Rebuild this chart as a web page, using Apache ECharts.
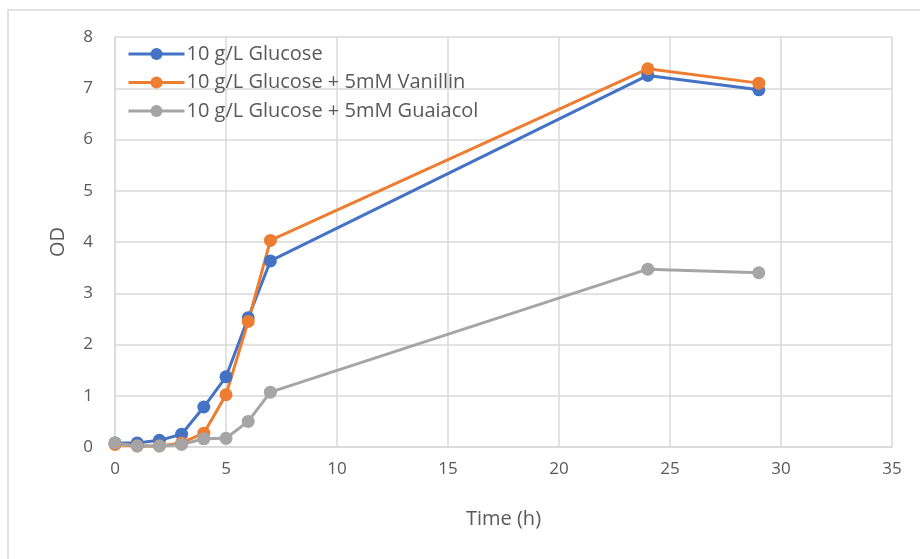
<!DOCTYPE html>
<html>
<head>
<meta charset="utf-8">
<script src="https://cdn.jsdelivr.net/npm/echarts@6/dist/echarts.min.js"></script>
<style>
  html, body { margin: 0; padding: 0; background: #fff; }
  #chart { width: 920px; height: 559px; }
</style>
</head>
<body>
<div id="chart"></div>
<script>
// sampling times (h)
const times = [0, 1, 2, 3, 4, 5, 6, 7, 24, 29]
// OD readings
const glucose = [0.08, 0.08, 0.13, 0.25, 0.78, 1.37, 2.52, 3.63, 7.25, 6.97]
const vanillin = [0.05, 0.02, 0.02, 0.08, 0.27, 1.02, 2.45, 4.03, 7.38, 7.10]
const guaiacol = [0.08, 0.02, 0.02, 0.05, 0.16, 0.17, 0.50, 1.07, 3.47, 3.40]
const names = ['10 g/L Glucose', '10 g/L Glucose + 5mM Vanillin', '10 g/L Glucose + 5mM Guaiacol']
const colors = ['#4472C4', '#ED7D31', '#A5A5A5']

const pairs = (ys) => times.map((t, i) => [t, ys[i]])

const chart = echarts.init(document.getElementById('chart'))
const font = '"Open Sans", sans-serif'

// one line series per condition
const series = [glucose, vanillin, guaiacol].map((ys, i) => ({
  name: names[i],
  type: 'line',
  data: pairs(ys),
  symbol: 'circle',
  symbolSize: 13,
  color: colors[i],
  lineStyle: { width: 3, color: colors[i] },
  itemStyle: { color: colors[i] }
}))

chart.setOption({
  animation: false,
  textStyle: { fontFamily: font },
  graphic: [
    {
      type: 'rect',
      shape: { x: 8, y: 10, width: 940, height: 600 },
      style: { fill: 'none', stroke: '#d9d9d9', lineWidth: 1.5 },
      z: -10
    }
  ],
  grid: { left: 115, right: 28, top: 37, bottom: 112 },
  legend: {
    orient: 'vertical',
    left: 122,
    top: 39,
    itemWidth: 56,
    itemHeight: 15,
    itemGap: 8.5,
    lineStyle: { width: 3 },
    textStyle: { color: '#595959', fontSize: 20, fontFamily: font, padding: [0, 0, 0, -3] },
    data: names
  },
  xAxis: {
    type: 'value',
    min: 0,
    max: 35,
    interval: 5,
    name: 'Time (h)',
    nameLocation: 'middle',
    nameGap: 62,
    nameTextStyle: { color: '#595959', fontSize: 20, fontFamily: font },
    axisLine: { show: true, lineStyle: { color: '#d9d9d9', width: 1.5 } },
    axisTick: { show: false },
    axisLabel: { color: '#595959', fontSize: 17, margin: 14, fontFamily: font },
    splitLine: { show: true, lineStyle: { color: '#d9d9d9', width: 1.5 } }
  },
  yAxis: {
    type: 'value',
    min: 0,
    max: 8,
    interval: 1,
    name: 'OD',
    nameLocation: 'middle',
    nameGap: 47,
    nameRotate: 90,
    nameTextStyle: { color: '#595959', fontSize: 20, fontFamily: font },
    axisLine: { show: true, lineStyle: { color: '#d9d9d9', width: 1.5 } },
    axisTick: { show: false },
    axisLabel: { color: '#595959', fontSize: 17, margin: 22, fontFamily: font },
    splitLine: { show: true, lineStyle: { color: '#d9d9d9', width: 1.5 } }
  },
  series: series
})
</script>
</body>
</html>
